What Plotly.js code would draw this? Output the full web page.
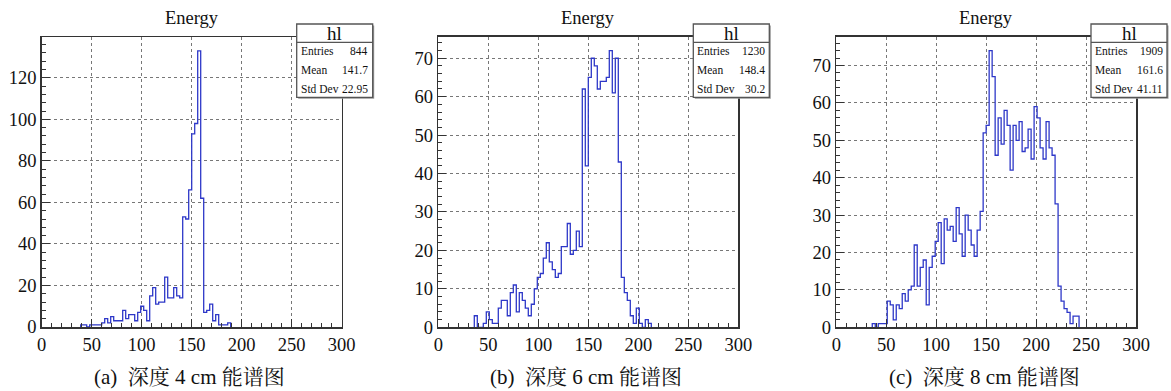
<!DOCTYPE html>
<html>
<head>
<meta charset="utf-8">
<script src="https://cdn.plot.ly/plotly-3.0.1.min.js"></script>
<style>html,body{margin:0;padding:0;background:#fff;}#chart{width:1171px;height:391px;}</style>
</head>
<body>
<div id="chart"></div>
<script>
// ---------- data ----------
const binWidth = 3;               // energy bin width
// panel (a) depth 4 cm
const startA = 39;
const countsA = [1,1,0,1,1,1,1, 2,4,2,5,3,3,3,8,4,6,6,3,7,10,8,3,
  15,19,11,12,12,24,14,14,19,15,14, 53,52,66,93,98,133,62, 7,8,11,3,6,1,1,1,2];
// panel (b) depth 6 cm
const startB = 36;
const countsB = [3,0,0,1,4,2,1,1,5,7,7,3,9,11,4,9,7,5,3,6,
  10,13,14,18,22,17,15,13,14,21,21,27,19,20,25,21,
  62,42,65,70,68,62,64,64,65,72,61,70,43, 13,9,7,3,1,5,1,0,2,1];
// panel (c) depth 8 cm
const startC = 36;
const countsC = [1,0,1,1,1, 7,6,2,6,5,9,7,10,11,22,11,16,18,6,16,19,23,28,17,
  29,26,27,23,32,25,19,30,26,22,19,26,31,
  52,54,74,67,46,56,49,58,54,42,54,50,55,47,48,53,45,59,
  56,48,45,55,48,46,33,11,7,5,4,1,3,3];

const panelTitle = 'Energy';
const statName = 'hl';
const statLabels = ['Entries', 'Mean', 'Std Dev'];
const statsA = ['844', '141.7', '22.95'];
const statsB = ['1230', '148.4', '30.2'];
const statsC = ['1909', '161.6', '41.11'];
const captions = ['(a)  深度 4 cm 能谱图', '(b)  深度 6 cm 能谱图', '(c)  深度 8 cm 能谱图'];
const xTicks = [0, 50, 100, 150, 200, 250, 300];

// ---------- helpers ----------
const W = 1171, H = 391;
const px = v => v / W;
const py = v => 1 - v / H;
const FONT = "'Liberation Serif', 'Times New Roman', 'Noto Serif CJK SC', 'Noto Sans CJK SC', serif";
const LINE = 'rgb(45,55,200)';

function stepTrace(start, counts, xa, ya) {
  const x = [start], y = [0];
  counts.forEach((c, i) => { x.push(start + i * binWidth); y.push(c); });
  x.push(start + counts.length * binWidth); y.push(0);
  return {x, y, xaxis: xa, yaxis: ya, type: 'scatter', mode: 'lines',
    line: {shape: 'hv', color: LINE, width: 1.3}, hoverinfo: 'skip', showlegend: false};
}

const panels = [
  {start: startA, counts: countsA, stats: statsA, x0: 41.7, x1: 341.7, yTop: 37, yBot: 327, ymax: Math.max(...countsA) * 1.05, dtick: 20, minor: 4},
  {start: startB, counts: countsB, stats: statsB, x0: 438.3, x1: 738.3, yTop: 36.7, yBot: 327.3, ymax: Math.max(...countsB) * 1.05, dtick: 10, minor: 2},
  {start: startC, counts: countsC, stats: statsC, x0: 836.3, x1: 1136, yTop: 36.7, yBot: 327.3, ymax: Math.max(...countsC) * 1.05, dtick: 10, minor: 2}
];

const data = [];
const layout = {
  width: W, height: H, margin: {l: 0, r: 0, t: 0, b: 0},
  paper_bgcolor: '#fff', plot_bgcolor: '#fff',
  font: {family: FONT, size: 18, color: '#111'},
  shapes: [], annotations: [], showlegend: false
};

panels.forEach((p, i) => {
  const sfx = i === 0 ? '' : String(i + 1);
  const xa = 'x' + sfx, ya = 'y' + sfx;
  data.push(stepTrace(p.start, p.counts, xa, ya));
  const common = {
    showline: true, mirror: true, linecolor: '#333', linewidth: 1.5,
    ticks: 'inside', ticklen: 8, tickwidth: 1, tickcolor: '#333',
    showgrid: true, gridcolor: '#777', griddash: 'dot', gridwidth: 1,
    zeroline: false, tickfont: {family: FONT, size: 18.5, color: '#111'}
  };
  layout['xaxis' + sfx] = Object.assign({}, common, {
    domain: [px(p.x0), px(p.x1)], range: [0, 300], anchor: ya,
    tickvals: xTicks, ticktext: xTicks.map(String),
    minor: {dtick: 10, ticks: 'inside', ticklen: 4, tickcolor: '#333', showgrid: false}
  });
  layout['yaxis' + sfx] = Object.assign({}, common, {
    domain: [py(p.yBot), py(p.yTop)], range: [0, p.ymax], anchor: xa,
    dtick: p.dtick, tick0: 0,
    minor: {dtick: p.minor, ticks: 'inside', ticklen: 4, tickcolor: '#333', showgrid: false}
  });

  // title
  layout.annotations.push({xref: 'paper', yref: 'paper', x: px((p.x0 + p.x1) / 2), y: py(18),
    text: panelTitle, showarrow: false, xanchor: 'center', yanchor: 'middle',
    font: {family: FONT, size: 18.5, color: '#111'}});
  // caption
  layout.annotations.push({xref: 'paper', yref: 'paper', x: px((p.x0 + p.x1) / 2 - 2), y: py(377),
    text: captions[i], showarrow: false, xanchor: 'center', yanchor: 'middle',
    font: {family: FONT, size: 21, color: '#111'}});

  // stats box
  const bx1 = p.x1 + 31, bx0 = bx1 - 76, by0 = 24, by1 = 97.3, hy = 42.3;
  layout.shapes.push({type: 'rect', xref: 'paper', yref: 'paper', x0: px(bx0 + 1.5), x1: px(bx1 + 1.5), y0: py(by1 + 1.5), y1: py(by0 + 1.5),
    line: {width: 0}, fillcolor: '#999', layer: 'above'});
  layout.shapes.push({type: 'rect', xref: 'paper', yref: 'paper', x0: px(bx0), x1: px(bx1), y0: py(by1), y1: py(by0),
    line: {color: '#555', width: 1.3}, fillcolor: '#fff', layer: 'above'});
  layout.shapes.push({type: 'line', xref: 'paper', yref: 'paper', x0: px(bx0), x1: px(bx1), y0: py(hy), y1: py(hy),
    line: {color: '#555', width: 1.3}, layer: 'above'});
  layout.annotations.push({xref: 'paper', yref: 'paper', x: px((bx0 + bx1) / 2), y: py(33),
    text: statName, showarrow: false, xanchor: 'center', yanchor: 'middle',
    font: {family: FONT, size: 19, color: '#111'}});
  const rowsY = [51.5, 70.5, 88.5];
  statLabels.forEach((lab, j) => {
    layout.annotations.push({xref: 'paper', yref: 'paper', x: px(bx0 + 2), y: py(rowsY[j]),
      text: lab, showarrow: false, xanchor: 'left', yanchor: 'middle',
      font: {family: FONT, size: 11.5, color: '#111'}});
    layout.annotations.push({xref: 'paper', yref: 'paper', x: px(bx1 - 2.5), y: py(rowsY[j]),
      text: p.stats[j], showarrow: false, xanchor: 'right', yanchor: 'middle',
      font: {family: FONT, size: 11.5, color: '#111'}});
  });
});

Plotly.newPlot('chart', data, layout, {displayModeBar: false, staticPlot: true});
</script>
</body>
</html>
